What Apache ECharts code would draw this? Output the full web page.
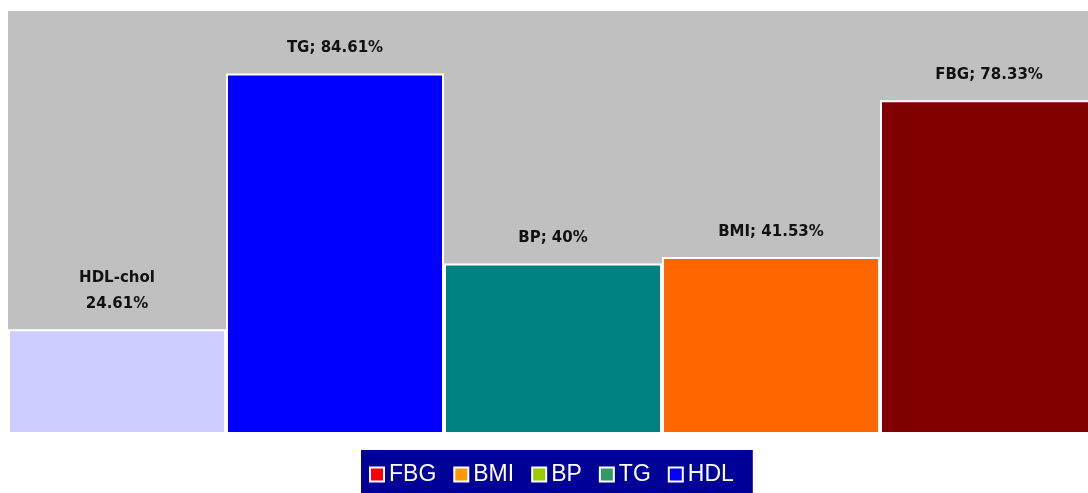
<!DOCTYPE html>
<html>
<head>
<meta charset="utf-8">
<script src="https://cdn.jsdelivr.net/npm/echarts@6/dist/echarts.min.js"></script>
<style>
  html, body { margin: 0; padding: 0; background: #ffffff; }
  #chart { width: 1088px; height: 493px; }
</style>
</head>
<body>
<div id="chart"></div>
<script>
// Prevalence of each metabolic risk factor (%)
const categories = ['HDL', 'TG', 'BP', 'BMI', 'FBG'];
const values = [24.61, 84.61, 40, 41.53, 78.33];
const labelNames = ['HDL-chol', 'TG', 'BP', 'BMI', 'FBG'];
const labelSeparators = ['\n', '; ', '; ', '; ', '; '];
const barColors = ['#CCCCFF', '#0000FF', '#008080', '#FF6600', '#800000'];

// Legend entries and their swatch colours
const legendNames = ['FBG', 'BMI', 'BP', 'TG', 'HDL'];
const legendColors = ['#FF0000', '#FF9900', '#99CC00', '#339966', '#0000FF'];

const chart = echarts.init(document.getElementById('chart'), null, { renderer: 'canvas' });

const series = categories.map((cat, i) => ({
  name: cat,
  type: 'bar',
  stack: 'one',
  barCategoryGap: 0,
  data: categories.map((c, j) => (j === i ? values[i] : '-')),
  itemStyle: { color: barColors[i], borderColor: '#ffffff', borderWidth: 2 },
  label: {
    show: true,
    position: 'top',
    distance: 12,
    color: '#111111',
    fontFamily: 'DejaVu Sans',
    fontWeight: 'bold',
    fontSize: 15,
    lineHeight: 26,
    align: 'center',
    formatter: (p) => labelNames[i] + labelSeparators[i] + p.value + '%'
  },
  emphasis: { disabled: true },
  animation: false
}));

chart.setOption({
  animation: false,
  graphic: [{
    type: 'rect',
    z: -10,
    silent: true,
    shape: { x: 8, y: 11, width: 1080, height: 423 },
    style: { fill: '#C0C0C0' }
  }],
  grid: {
    left: 8, top: 8, width: 1090, height: 426,
    containLabel: false,
    outerBoundsMode: 'none'
  },
  xAxis: {
    type: 'category',
    data: categories,
    show: false
  },
  yAxis: {
    type: 'value',
    min: 0,
    max: 100,
    show: false
  },
  legend: {
    left: 361,
    top: 450,
    selectedMode: false,
    backgroundColor: '#000099',
    padding: [13, 19, 7, 8],
    itemGap: 17,
    itemWidth: 14,
    itemHeight: 14,
    icon: 'rect',
    textStyle: { color: '#ffffff', fontFamily: 'Liberation Sans', fontSize: 23, lineHeight: 22 },
    data: legendNames.map((n, i) => ({
      name: n,
      itemStyle: { color: legendColors[i], borderColor: '#ffffff', borderWidth: 2 }
    }))
  },
  series: series
});
</script>
</body>
</html>
